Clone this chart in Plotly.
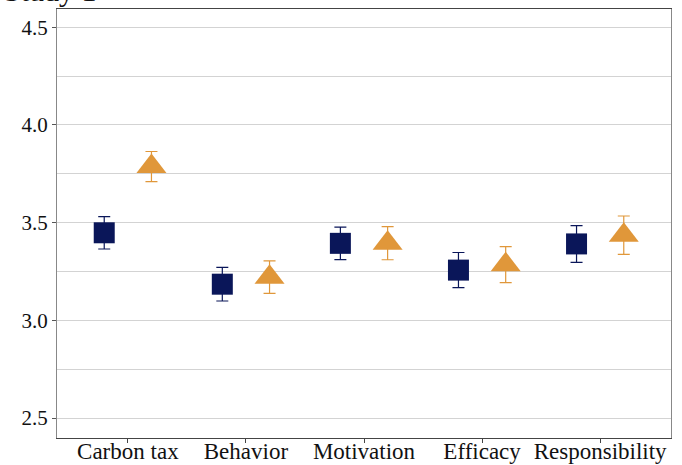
import plotly.graph_objects as go

categories = ["Carbon tax", "Behavior", "Motivation", "Efficacy", "Responsibility"]
group_a_mean = [3.448, 3.185, 3.394, 3.257, 3.391]
group_a_err = [0.083, 0.086, 0.083, 0.090, 0.094]
group_b_mean = [3.787, 3.221, 3.395, 3.285, 3.436]
group_b_err = [0.077, 0.083, 0.085, 0.092, 0.098]

navy = "#0A1659"
orange = "#E0973A"
font_family = "Liberation Serif, Times New Roman, serif"

fig = go.Figure()
fig.add_trace(go.Scatter(
    x=categories, y=group_a_mean, mode="markers",
    marker=dict(symbol="square", size=21, color=navy, line=dict(width=0)),
    error_y=dict(type="data", array=group_a_err, color=navy, thickness=1.2, width=6),
    showlegend=False,
))
fig.add_trace(go.Scatter(
    x=categories, y=group_b_mean, mode="markers",
    marker=dict(symbol="triangle-up", size=26, color=orange, line=dict(width=0)),
    error_y=dict(type="data", array=group_b_err, color=orange, thickness=1.2, width=6),
    showlegend=False,
))

fig.update_layout(
    width=682, height=465,
    margin=dict(l=57, r=11, t=9, b=27),
    paper_bgcolor="white", plot_bgcolor="white",
    scattermode="group", scattergap=0.2,
    font=dict(family=font_family, size=21, color="#111111"),
    xaxis=dict(
        type="category", range=[-0.6, 4.6], automargin=False,
        showgrid=False, showline=True, linecolor="#444444", linewidth=1.2,
        mirror=True, ticks="outside", ticklen=4, tickcolor="#444444",
        ticklabelstandoff=-12,
        tickfont=dict(family=font_family, size=23, color="#111111"),
    ),
    yaxis=dict(
        range=[2.398, 4.593], tickvals=[2.5, 3.0, 3.5, 4.0, 4.5], automargin=False,
        ticktext=["2.5", "3.0", "3.5", "4.0", "4.5"],
        showgrid=True, gridcolor="#D3D3D3", gridwidth=1,
        minor=dict(dtick=0.25, tick0=2.5, showgrid=True, gridcolor="#D3D3D3", gridwidth=1, ticks=""),
        showline=True, linecolor="#888888", linewidth=1.2, mirror=True,
        ticks="outside", ticklen=4, tickcolor="#555555",
        zeroline=False,
        tickfont=dict(family=font_family, size=21, color="#111111"),
    ),
    annotations=[dict(
        text="Study 1", xref="paper", yref="paper", x=-0.09, y=1,
        xanchor="left", yanchor="bottom", yshift=0, showarrow=False,
        font=dict(family=font_family, size=30, color="#111111"),
    )],
)

fig.write_html(
    "out.html",
    config={"displayModeBar": False},
    post_script="document.body.style.margin='0';document.body.style.overflow='hidden';",
)
